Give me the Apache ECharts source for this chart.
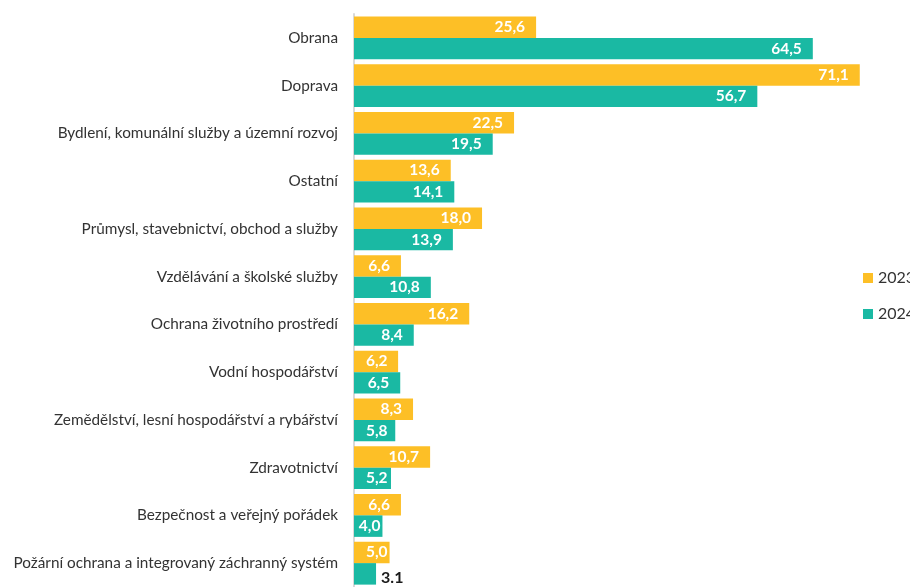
<!DOCTYPE html>
<html><head><meta charset="utf-8">
<script src="https://cdn.jsdelivr.net/npm/echarts@6/dist/echarts.min.js"></script>
<style>html,body{margin:0;padding:0;background:#fff}#c{width:910px;height:587px}</style>
</head><body><div id="c"></div>
<script>
const categories = ["Obrana","Doprava","Bydlení, komunální služby a územní rozvoj","Ostatní","Průmysl, stavebnictví, obchod a služby","Vzdělávání a školské služby","Ochrana životního prostředí","Vodní hospodářství","Zemědělství, lesní hospodářství a rybářství","Zdravotnictví","Bezpečnost a veřejný pořádek","Požární ochrana a integrovaný záchranný systém"];
const values2023 = [25.6,71.1,22.5,13.6,18.0,6.6,16.2,6.2,8.3,10.7,6.6,5.0];
const values2024 = [64.5,56.7,19.5,14.1,13.9,10.8,8.4,6.5,5.8,5.2,4.0,3.1];
const seriesNames = ["2023","2024"];

const fmt = v => v.toFixed(1).replace('.', ',');
const font = 'Lato, "Open Sans", sans-serif';
const LABEL_SIZE = 15.5;
const lbl = {show:true, position:'insideRight', color:'#fff', fontWeight:'bold', fontSize:LABEL_SIZE, fontFamily:font, formatter:p=>fmt(p.value), distance:11};

const GRID = {left:354, right:22.5, top:14, bottom:-3};
const X_MAX = 75;
const pxPerUnit = (910 - GRID.left - GRID.right) / X_MAX;
const textW = s => echarts.format.getTextRect ? echarts.format.getTextRect(s, 'bold ' + LABEL_SIZE + 'px ' + font).width : s.length * 7.5;
function measure(s){
  const c = document.createElement('canvas').getContext('2d');
  c.font = 'bold ' + LABEL_SIZE + 'px ' + font;
  return c.measureText(s).width;
}
// inside-end labels that are pushed toward the bar end when the bar is short
const item = v => {
  const slack = v * pxPerUnit - measure(fmt(v));
  const d = Math.max(2, Math.min(11, slack - 12));
  return d < 11 ? {value:v, label:{distance:d}} : v;
};

const data2023 = values2023.map(item);
const data2024 = values2024.map((v,i)=> i===values2024.length-1
  ? {value:v, label:{position:'right', color:'#1a1a1a', formatter:p=>p.value.toFixed(1), distance:5, fontSize:16, offset:[0,4]}}
  : item(v));

const chart = echarts.init(document.getElementById('c'));
chart.setOption({
  animation:false,
  grid:Object.assign({containLabel:false}, GRID),
  legend:{orient:'vertical', left:858, top:265, itemWidth:10, itemHeight:10, itemGap:20, icon:'rect',
    textStyle:{fontSize:16, color:'#333', fontFamily:font}, data:seriesNames},
  xAxis:{type:'value', min:0, max:X_MAX, show:false},
  yAxis:{type:'category', data:categories, inverse:true,
    axisLine:{show:true, lineStyle:{color:'#d9d9d9', width:2}},
    axisTick:{show:false},
    axisLabel:{color:'#333', fontSize:15.3, fontFamily:font, margin:16}},
  series:[
    {name:seriesNames[0], type:'bar', data:data2023, barGap:'0%', barCategoryGap:'10%', itemStyle:{color:'#FDBF26'}, label:lbl},
    {name:seriesNames[1], type:'bar', data:data2024, itemStyle:{color:'#1AB9A3'}, label:lbl}
  ]
});
</script></body></html>
